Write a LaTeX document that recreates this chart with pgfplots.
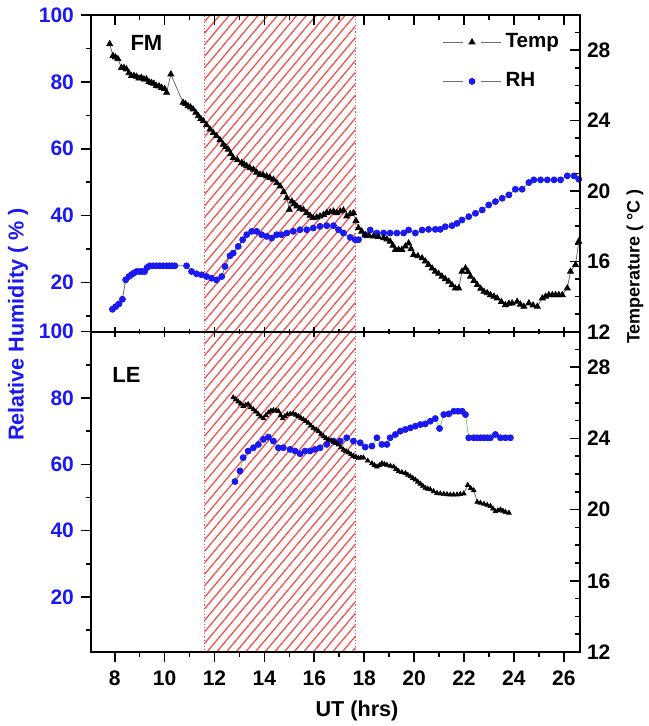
\documentclass[border=0pt]{standalone}
\usepackage{fontspec}
\setmainfont{Liberation Sans}
\usepackage{pgfplots}
\pgfplotsset{compat=1.18}
\usetikzlibrary{patterns.meta}
\definecolor{rhblue}{RGB}{25,25,240}
\definecolor{hatchred}{RGB}{240,80,80}
\definecolor{lgreen}{RGB}{130,200,110}
\definecolor{tline}{RGB}{110,110,110}

\pgfplotsset{
  base/.style={
    scale only axis, width=244.5pt, xmin=7.05, xmax=26.65,
    axis line style={line width=0.9pt},
    major tick length=5pt, minor tick length=2.5pt,
    tick style={line width=0.8pt, black},
    tick label style={font=\fontsize{10.5}{12}\selectfont\bfseries},
    /pgf/number format/assume math mode=true,
    anchor=south west,
  },
  rhaxis/.style={base, ymax=100,
    ytick={20,40,60,80,100}, minor ytick={10,30,50,70,90},
    ytick pos=left, yticklabel pos=left, tick align=outside,
    xtick=\empty, yticklabel style={text=rhblue}},
  taxis/.style={base, ymin=12, ymax=30,
    ytick={12,16,20,24,28}, minor ytick={13,14,15,17,18,19,21,22,23,25,26,27,29},
    ytick pos=right, yticklabel pos=right, tick align=inside, xtick=\empty},
  xonly/.style={base, ymin=0, ymax=1, ytick=\empty,
    xtick={8,10,...,26}, minor xtick={9,11,...,25}},
  hatch/.style={draw=none, pattern={Lines[angle=50,distance=3.7pt,line width=0.65pt]}, pattern color=hatchred},
  border/.style={hatchred, densely dotted, line width=0.6pt},
  tstyle/.style={tline, line width=0.4pt, mark=triangle*, mark size=1.7pt, mark options={black, solid}},
  rhstyle/.style={tline, line width=0.4pt, mark=*, mark size=1.5pt, mark options={rhblue, fill=rhblue, solid}},
}

\begin{document}
\begin{tikzpicture}
\path[use as bounding box] (0pt,0pt) rectangle (324pt,363pt);

% ---------------- top panel (FM) ----------------
\begin{axis}[rhaxis, at={(45.5pt,197.15pt)}, height=158.35pt, ymin=5.3]
\addplot[hatch] coordinates {(11.6,0) (11.6,100) (17.65,100) (17.65,0)} -- cycle;
\addplot[border] coordinates {(11.6,0) (11.6,100)};
\addplot[border] coordinates {(17.65,0) (17.65,100)};
\addplot[rhstyle] coordinates {
(7.91,12.0) (8.04,12.8) (8.17,13.6) (8.31,15.0) (8.44,20.8) (8.57,21.8) (8.68,22.4) (8.76,22.8)
(8.88,23.3) (9.0,23.3) (9.1,23.3) (9.2,23.3) (9.3,24.5) (9.41,25.0) (9.54,25.0) (9.67,25.0)
(9.8,25.0) (9.93,25.0) (10.08,25.0) (10.2,25.0) (10.3,25.0) (10.41,25.0) (10.88,25.0)
(11.08,23.3) (11.28,22.6) (11.48,22.3) (11.68,21.8) (11.88,21.3) (12.08,20.8) (12.29,21.8)
(12.42,24.8) (12.62,28.0) (12.75,28.8) (12.95,30.8) (13.13,32.8) (13.29,34.3) (13.49,35.3)
(13.69,35.3) (13.89,34.3) (14.09,33.8) (14.29,33.3) (14.49,34.3) (14.69,34.3) (14.9,34.8)
(15.16,35.3) (15.43,35.8) (15.7,35.8) (15.96,36.3) (16.23,36.8) (16.5,37.0) (16.77,37.0)
(16.97,35.8) (17.17,34.8) (17.44,33.5) (17.64,32.8) (17.77,32.8) (18.04,34.2) (18.24,35.7)
(18.51,34.8) (18.78,34.8) (19.04,34.8) (19.31,34.8) (19.58,34.8) (19.78,35.7) (20.05,34.8)
(20.32,35.7) (20.58,35.9) (20.85,35.9) (21.05,35.9) (21.25,36.7) (21.52,37.0) (21.72,37.7)
(21.92,38.7) (22.19,39.7) (22.46,40.7) (22.73,41.7) (22.99,43.2) (23.26,44.2) (23.53,45.2)
(23.8,46.2) (24.06,47.9) (24.33,47.9) (24.6,49.9) (24.8,50.7) (25.07,50.7) (25.34,50.7)
(25.61,50.7) (25.87,50.7) (26.14,51.9) (26.41,51.9) (26.6,50.9)
};
\node[font=\fontsize{11}{13}\selectfont\bfseries] at (axis cs:9.27,91.5) {FM};
\end{axis}

\begin{axis}[taxis, at={(45.5pt,197.15pt)}, height=158.35pt,
  legend style={at={(0.718,0.955)}, anchor=north west, draw=none, fill=none,
    inner sep=0pt, font=\fontsize{10.3}{12}\selectfont\bfseries, row sep=7pt},
  legend cell align=left,
  legend image code/.code={
    \draw[tline, line width=0.5pt] (0pt,0pt) -- (10pt,0pt) (19pt,0pt) -- (29pt,0pt);
    \draw[#1] plot coordinates {(14.5pt,0pt)};}]
\addplot[tstyle] coordinates {
(7.80,28.35) (7.93,27.68) (8.03,27.6) (8.13,27.5) (8.27,27.0) (8.37,27.0) (8.47,26.92)
(8.57,26.7) (8.67,26.54) (8.77,26.55) (8.87,26.5) (8.97,26.4) (9.07,26.44) (9.17,26.35)
(9.27,26.35) (9.37,26.2) (9.47,26.15) (9.57,26.1) (9.67,25.97) (9.78,25.95) (9.88,25.87)
(10.0,25.8) (10.08,25.59) (10.25,26.63) (10.74,25.02) (10.84,24.95) (10.94,24.83)
(11.04,24.75) (11.14,24.64) (11.25,24.45) (11.35,24.26) (11.45,24.1) (11.55,23.97)
(11.68,23.75) (11.82,23.5) (11.95,23.3) (12.08,23.12) (12.22,22.9) (12.35,22.64)
(12.45,22.5) (12.55,22.36) (12.65,22.1) (12.75,21.88) (12.92,21.75) (13.09,21.6)
(13.19,21.5) (13.29,21.41) (13.42,21.3) (13.56,21.22) (13.69,21.05) (13.82,20.93)
(13.95,20.9) (14.09,20.84) (14.22,20.75) (14.36,20.65) (14.5,20.45) (14.63,20.27)
(14.77,19.95) (14.9,19.6) (15.0,18.94) (15.1,19.41) (15.2,19.25) (15.3,19.13) (15.43,19.0)
(15.56,18.94) (15.7,18.75) (15.83,18.6) (15.96,18.46) (16.1,18.5) (16.23,18.56)
(16.37,18.65) (16.5,18.75) (16.64,18.8) (16.77,18.84) (16.9,18.75) (17.04,18.84)
(17.17,18.9) (17.3,18.56) (17.44,18.7) (17.57,18.75) (17.67,18.3) (17.77,17.89)
(17.9,17.7) (18.04,17.51) (18.2,17.45) (18.37,17.42) (18.57,17.4) (18.78,17.32)
(18.91,17.25) (19.04,17.13) (19.15,16.9) (19.25,16.66) (19.38,16.66) (19.51,16.66)
(19.65,16.85) (19.78,17.03) (19.88,16.7) (19.98,16.37) (20.15,16.3) (20.32,16.18)
(20.45,16.0) (20.58,15.8) (20.72,15.6) (20.85,15.42) (20.98,15.3) (21.12,15.14)
(21.25,15.0) (21.39,14.85) (21.52,14.65) (21.65,14.47) (21.79,14.47) (21.92,15.42)
(22.06,15.61) (22.16,15.4) (22.26,15.14) (22.4,14.9) (22.53,14.66) (22.67,14.45)
(22.8,14.28) (22.93,14.2) (23.06,14.09) (23.2,14.0) (23.33,13.9) (23.5,13.7) (23.66,13.52)
(23.8,13.6) (23.93,13.62) (24.13,13.71) (24.26,13.55) (24.4,13.43) (24.6,13.62)
(24.77,13.5) (24.94,13.43) (25.14,13.9) (25.27,14.0) (25.4,14.09) (25.54,14.09)
(25.67,14.09) (25.8,14.09) (25.94,14.09) (26.14,14.47) (26.27,15.42) (26.47,15.8) (26.6,17.13)
};
\addlegendentry{Temp}
\addlegendimage{rhstyle}
\addlegendentry{RH}
\end{axis}

\begin{axis}[xonly, at={(45.5pt,197.15pt)}, height=158.35pt,
  xtick pos=top, tick align=inside, xticklabel=\empty]
\end{axis}
\begin{axis}[xonly, at={(45.5pt,197.15pt)}, height=158.35pt,
  xtick pos=bottom, tick align=center, xticklabel=\empty]
\end{axis}

% ---------------- bottom panel (LE) ----------------
\begin{axis}[rhaxis, at={(45.5pt,37pt)}, height=160.15pt, ymin=3.4]
\addplot[hatch] coordinates {(11.6,0) (11.6,100) (17.65,100) (17.65,0)} -- cycle;
\addplot[border] coordinates {(11.6,0) (11.6,100)};
\addplot[border] coordinates {(17.65,0) (17.65,100)};
\addplot[rhstyle, lgreen] coordinates {
(12.82,54.8) (13.02,58.0) (13.15,62.0) (13.35,64.0) (13.56,65.0) (13.76,66.0) (13.96,67.5)
(14.16,68.2) (14.36,67.0) (14.56,65.0) (14.76,65.0) (15.03,64.5) (15.23,64.0) (15.43,63.2)
(15.63,64.0) (15.83,64.0) (16.03,64.5) (16.23,65.0) (16.5,66.0) (16.77,67.0) (17.04,67.0)
(17.3,68.0) (17.57,67.0) (17.84,66.5) (18.04,65.2) (18.31,65.5) (18.51,68.0) (18.71,66.0)
(18.91,66.0) (19.04,68.0) (19.25,69.0) (19.45,70.0) (19.65,70.5) (19.85,71.0) (20.05,71.5)
(20.25,72.0) (20.45,72.2) (20.65,73.0) (20.85,73.8) (21.02,70.8) (21.19,75.0) (21.39,75.2)
(21.59,76.0) (21.76,76.0) (21.93,76.0) (22.06,75.0) (22.19,68.0) (22.39,68.0) (22.53,68.0)
(22.66,68.0) (22.8,68.0) (22.93,68.0) (23.06,68.0) (23.26,69.0) (23.46,68.0) (23.66,68.0)
(23.86,68.0)
};
\node[font=\fontsize{11}{13}\selectfont\bfseries] at (axis cs:8.47,87) {LE};
\end{axis}

\begin{axis}[taxis, at={(45.5pt,37pt)}, height=160.15pt]
\addplot[tstyle, mark size=1.3pt] coordinates {
(12.75,26.3) (12.85,26.2) (12.95,26.07) (13.05,25.95) (13.15,25.82) (13.25,25.88)
(13.35,25.92) (13.45,25.75) (13.56,25.63) (13.66,25.5) (13.76,25.35) (13.86,25.22)
(13.96,25.12) (14.06,25.3) (14.16,25.45) (14.26,25.55) (14.36,25.58) (14.46,25.56)
(14.56,25.54) (14.65,25.3) (14.73,25.12) (14.82,25.25) (14.92,25.35) (15.04,25.38)
(15.16,25.39) (15.26,25.32) (15.36,25.25) (15.46,25.15) (15.56,25.07) (15.66,24.97)
(15.76,24.87) (15.86,24.72) (15.96,24.59) (16.07,24.5) (16.17,24.4) (16.27,24.25)
(16.37,24.12) (16.47,24.02) (16.57,23.93) (16.67,23.88) (16.77,23.83) (16.87,23.74)
(16.97,23.65) (17.07,23.5) (17.17,23.36) (17.27,23.28) (17.37,23.2) (17.47,23.1)
(17.57,23.0) (17.67,22.95) (17.77,22.9) (17.87,22.92) (17.97,22.92) (18.14,22.75)
(18.31,22.6) (18.41,22.5) (18.51,22.41) (18.61,22.5) (18.71,22.6) (18.81,22.55)
(18.91,22.51) (19.05,22.46) (19.18,22.41) (19.28,22.28) (19.38,22.15) (19.51,22.1)
(19.65,22.05) (19.75,21.95) (19.85,21.86) (19.95,21.77) (20.05,21.68) (20.15,21.56)
(20.25,21.45) (20.35,21.33) (20.45,21.22) (20.55,21.17) (20.65,21.13) (20.78,21.03)
(20.92,20.93) (21.05,20.9) (21.19,20.88) (21.32,20.86) (21.45,20.84) (21.58,20.84)
(21.72,20.84) (21.85,20.87) (21.99,20.9) (22.15,21.38) (22.27,21.2) (22.39,21.08)
(22.53,20.43) (22.66,20.38) (22.8,20.32) (22.93,20.26) (23.06,20.2) (23.16,20.05)
(23.26,19.9) (23.36,19.95) (23.46,20.0) (23.56,19.93) (23.66,19.87) (23.8,19.82)
};
\end{axis}

\begin{axis}[xonly, at={(45.5pt,37pt)}, height=160.15pt,
  xtick pos=bottom, xticklabel pos=bottom, tick align=outside,
  xticklabel style={yshift=-1pt}]
\end{axis}

% ---------------- axis titles ----------------
\node[rotate=90, text=rhblue, font=\fontsize{10.8}{13}\selectfont\bfseries]
  at (9pt,200.75pt) {Relative Humidity ( \% )};
\node[rotate=90, font=\fontsize{9}{11}\selectfont\bfseries]
  at (317.5pt,229.75pt) {Temperature ( °C )};
\node[font=\fontsize{10.8}{13}\selectfont\bfseries] at (178.5pt,7.5pt) {UT (hrs)};
\end{tikzpicture}
\end{document}
